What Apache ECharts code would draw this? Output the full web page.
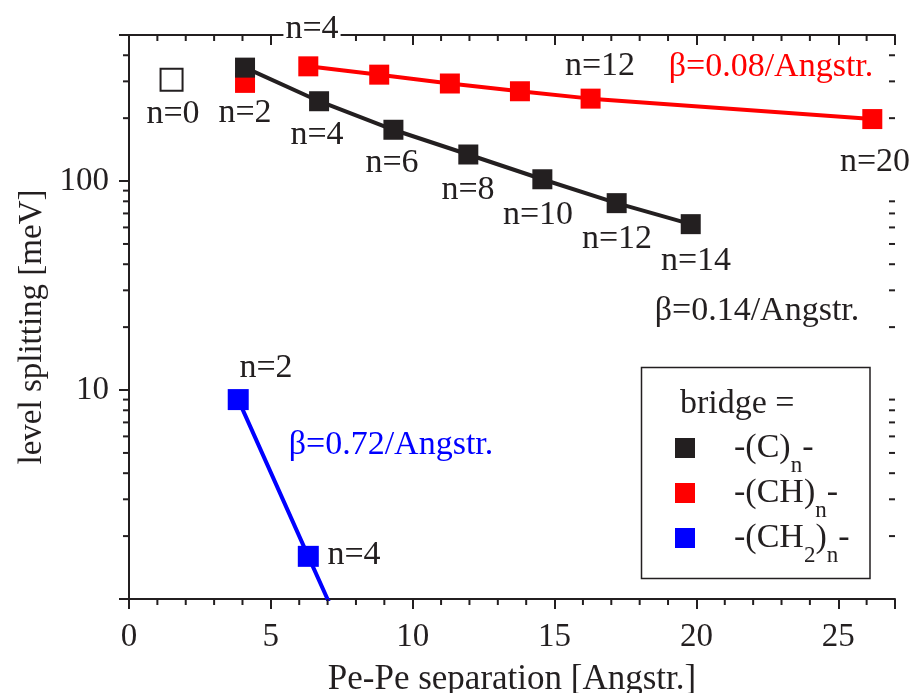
<!DOCTYPE html>
<html>
<head>
<meta charset="utf-8">
<script src="https://cdn.jsdelivr.net/npm/echarts@6/dist/echarts.min.js"></script>
<style>
html,body{margin:0;padding:0;background:#fff;}
#chart{width:911px;height:693px;}
</style>
</head>
<body>
<div id="chart"></div>
<script>
// ---- data ----
const bareX = [1.5];            // n=0 (open square)
const bareY = [305];
const cX = [4.09, 6.70, 9.32, 11.96, 14.57, 17.19, 19.80];   // -(C)n- , n=2..14
const cY = [349, 241, 176, 134, 102, 78.4, 62.2];
const chX = [6.32, 8.82, 11.31, 13.78, 16.27, 26.2];          // -(CH)n- , n=4..12, 20
const chY = [354, 323, 293, 269, 248, 198];
const ch2X = [4.09];                                          // -(CH)n- , n=2 (no line)
const ch2Y = [295];
const ch2nX = [3.85, 6.32];                                   // -(CH2)n- , n=2, 4
const ch2nY = [9.0, 1.60];
const ch2nFitEnd = [7.1, 0.93];                               // end of the fitted line (below axis)
const xMinorTicks = [1,2,3,4,6,7,8,9,11,12,13,14,16,17,18,19,21,22,23,24,26];
const yMinorTicks = [2,3,4,5,6,7,8,9,20,30,40,50,60,70,80,90,200,300,400];
const yLabelValues = [10, 100];

const FONT = 'Liberation Serif';
const INK = '#231f20';
const RED = '#ff0000';
const BLUE = '#0000ff';

const pairs = (xs, ys) => xs.map((x, i) => [x, ys[i]]);

const annotations = [
  {t:'n=0', x:173, y:114},
  {t:'n=2', x:245, y:113},
  {t:'n=4', x:312, y:29, bg:[4,2]},
  {t:'n=4', x:317, y:135},
  {t:'n=6', x:392, y:163},
  {t:'n=8', x:468, y:190},
  {t:'n=10', x:538, y:215},
  {t:'n=12', x:617, y:239},
  {t:'n=14', x:696, y:261},
  {t:'n=12', x:600, y:66},
  {t:'\u03b2=0.08/Angstr.', x:771, y:67, c:RED},
  {t:'n=20', x:875, y:162, bg:[14,2]},
  {t:'\u03b2=0.14/Angstr.', x:757, y:311},
  {t:'n=2', x:266, y:368},
  {t:'\u03b2=0.72/Angstr.', x:391, y:445, c:BLUE},
  {t:'n=4', x:354, y:555}
];

const chart = echarts.init(document.getElementById('chart'), null, {renderer:'canvas'});

function xTickItem(params, api) {
  const cs = params.coordSys;
  const px = api.coord([api.value(0), api.value(1)])[0];
  const b = cs.y + cs.height, t = cs.y;
  const st = {stroke: INK, lineWidth: 2};
  return {type:'group', children:[
    {type:'line', shape:{x1:px, y1:b, x2:px, y2:b+6}, style:st},
    {type:'line', shape:{x1:px, y1:t, x2:px, y2:t+6}, style:st}
  ]};
}
function yTickItem(params, api) {
  const cs = params.coordSys;
  const py = api.coord([api.value(0), api.value(1)])[1];
  const l = cs.x, r = cs.x + cs.width;
  const st = {stroke: INK, lineWidth: 2};
  return {type:'group', children:[
    {type:'line', shape:{x1:l-6, y1:py, x2:l, y2:py}, style:st},
    {type:'line', shape:{x1:r-6, y1:py, x2:r, y2:py}, style:st}
  ]};
}

const axisLine = {show:true, lineStyle:{color:INK, width:2}};
const yFmt = v => yLabelValues.some(t => Math.abs(t - v) / t < 1e-6) ? String(Math.round(v)) : '';

const names = {C:'{p| }{a|-(C)}{s|n}{a|-}', CH:'{p| }{a|-(CH)}{s|n}{a|-}', CH2:'{p| }{a|-(CH}{s|2}{a|)}{s|n}{a|-}'};

const option = {
  animation: false,
  backgroundColor: '#fff',
  grid: {left:129, right:16, top:35, bottom:94, containLabel:false, outerBoundsMode:'none'},
  xAxis: [
    {type:'value', position:'bottom', min:0, max:27, interval:5,
     axisLine: axisLine, splitLine:{show:false},
     axisTick:{show:true, inside:false, length:10, lineStyle:{color:INK, width:2}},
     axisLabel:{show:true, margin:22, color:INK, fontFamily:FONT, fontSize:33,
                formatter: v => (v % 5 === 0 ? String(v) : '')},
     name:'Pe-Pe separation [Angstr.]', nameLocation:'middle', nameGap:63,
     nameTextStyle:{color:INK, fontFamily:FONT, fontSize:35}},
    {type:'value', position:'top', min:0, max:27, interval:5,
     axisLine: axisLine, splitLine:{show:false},
     axisTick:{show:true, inside:true, length:10, lineStyle:{color:INK, width:2}},
     axisLabel:{show:false}}
  ],
  yAxis: [
    {type:'log', logBase:10, position:'left', min:1, max:500,
     axisLine: axisLine, splitLine:{show:false},
     axisTick:{show:true, inside:false, length:10, lineStyle:{color:INK, width:2}},
     axisLabel:{show:true, margin:20, color:INK, fontFamily:FONT, fontSize:33, formatter:yFmt},
     name:'level splitting [meV]', nameLocation:'middle', nameGap:77, nameRotate:90,
     nameTextStyle:{color:INK, fontFamily:FONT, fontSize:33, padding:[0,20,0,0]}},
    {type:'log', logBase:10, position:'right', min:1, max:500,
     axisLine: axisLine, splitLine:{show:false},
     axisTick:{show:true, inside:true, length:10, lineStyle:{color:INK, width:2}},
     axisLabel:{show:false}}
  ],
  legend: {
    orient:'vertical', left:675, top:431, padding:0, itemGap:-1,
    itemWidth:20, itemHeight:20, icon:'rect', selectedMode:false,
    data:['C','CH','CH2'],
    formatter: n => names[n],
    textStyle:{color:INK, fontFamily:FONT, fontSize:34,
      rich:{
        p:{width:34, fontSize:34, lineHeight:58},
        a:{fontSize:34, lineHeight:58, fontFamily:FONT, color:INK},
        s:{fontSize:23, lineHeight:4, verticalAlign:'bottom', fontFamily:FONT, color:INK}
      }}
  },
  graphic: [
    {type:'rect', z:1, shape:{x:641.5, y:367.5, width:228.5, height:211}, style:{fill:'#fff', stroke:INK, lineWidth:1.5}},
    {type:'text', z:10, x:680, y:404, style:{text:'bridge =', fill:INK, font:'34px "'+FONT+'"', verticalAlign:'middle', align:'left'}}
  ].concat(annotations.map(a => ({
    type:'text', z:100, x:a.x, y:a.y,
    style:{text:a.t, fill:a.c || INK, font:'34px "'+FONT+'"', align:'center', verticalAlign:'middle',
           backgroundColor: a.bg ? '#fff' : null, padding: a.bg ? a.bg : 0}
  }))),
  series: [
    {name:'xminor', type:'custom', xAxisIndex:0, yAxisIndex:0, silent:true, clip:false,
     renderItem:xTickItem, data: xMinorTicks.map(v => [v, 1]), z:5},
    {name:'yminor', type:'custom', xAxisIndex:0, yAxisIndex:0, silent:true, clip:false,
     renderItem:yTickItem, data: yMinorTicks.map(v => [0, v]), z:5},
    {name:'n0', type:'scatter', symbol:'rect', symbolSize:22, silent:true,
     itemStyle:{color:'#fff', borderColor:INK, borderWidth:2, opacity:1},
     data: pairs(bareX, bareY)},
    {name:'CH', type:'scatter', symbol:'rect', symbolSize:20, silent:true,
     itemStyle:{color:RED, opacity:1}, data: pairs(ch2X, ch2Y), z:2},
    {name:'C', type:'line', symbol:'rect', symbolSize:20, showAllSymbol:true, silent:true,
     lineStyle:{color:INK, width:4}, itemStyle:{color:INK, opacity:1}, data: pairs(cX, cY), z:3},
    {name:'CH', type:'line', symbol:'rect', symbolSize:20, showAllSymbol:true, silent:true,
     lineStyle:{color:RED, width:4}, itemStyle:{color:RED, opacity:1}, data: pairs(chX, chY), z:3},
    {name:'CH2', type:'line', symbol:'rect', symbolSize:21, showAllSymbol:true, silent:true, clip:true,
     lineStyle:{color:BLUE, width:4}, itemStyle:{color:BLUE, opacity:1},
     data: pairs(ch2nX, ch2nY).concat([{value: ch2nFitEnd, symbol:'none'}]), z:3}
  ]
};
chart.setOption(option);
</script>
</body>
</html>
